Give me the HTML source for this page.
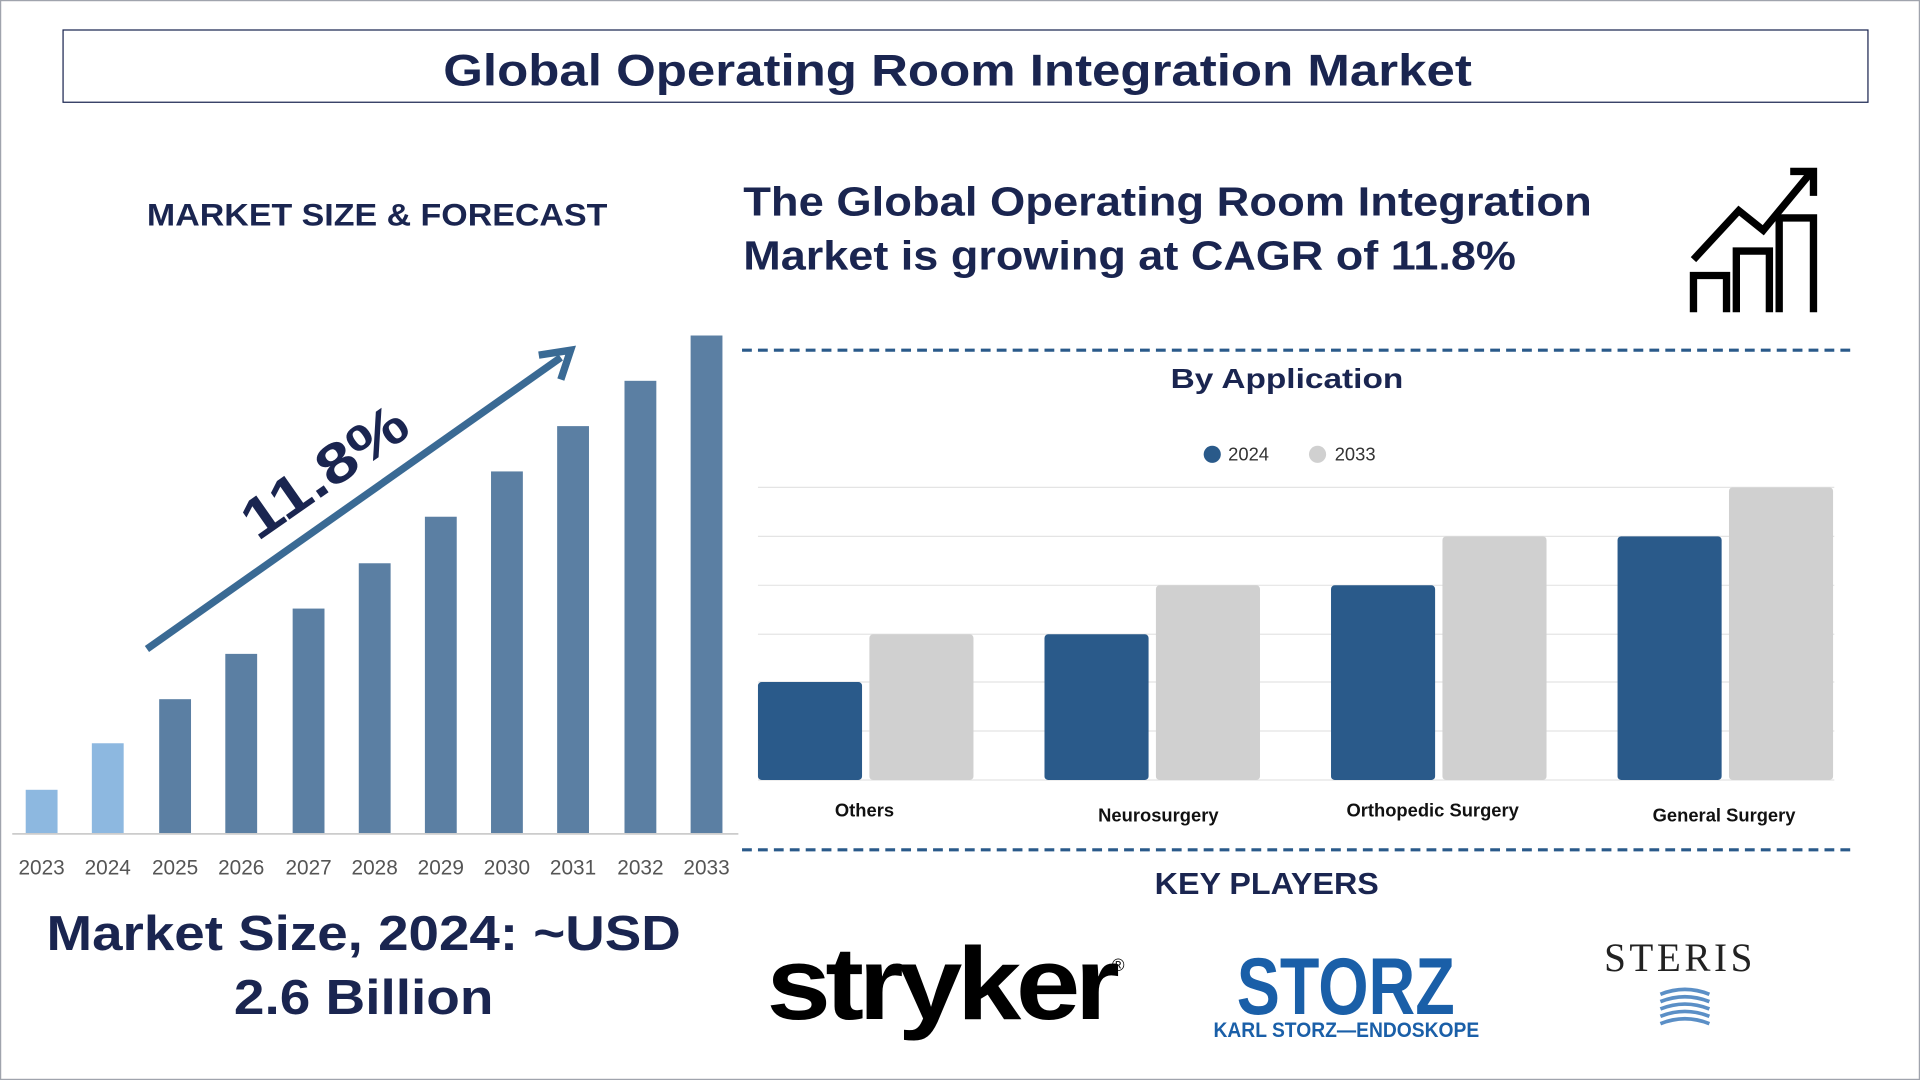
<!DOCTYPE html>
<html><head><meta charset="utf-8"><style>
html,body{margin:0;padding:0;background:#fff;width:1920px;height:1080px;overflow:hidden}
#s{position:absolute;left:0;top:0;width:1568px;height:882px;transform:scale(1.22449);transform-origin:0 0;font-family:"Liberation Sans",sans-serif}
.a{position:absolute}
</style></head><body><div id="s">
<div class="a" style="left:0;top:0;width:1566px;height:880px;border:1px solid #a0a4ad"></div>
<div class="a" style="left:51px;top:24px;width:1473px;height:58px;border:1.5px solid #1a2550"></div>
<svg class="a" style="left:0;top:0" width="1568" height="882">
<text x="362" y="70" font-size="36" font-weight="bold" fill="#1a2550" textLength="840" lengthAdjust="spacingAndGlyphs">Global Operating Room Integration Market</text>
<text x="120" y="184" font-size="26" font-weight="bold" fill="#1a2550" textLength="376" lengthAdjust="spacingAndGlyphs">MARKET SIZE &amp; FORECAST</text>
<text x="607" y="176" font-size="33" font-weight="bold" fill="#1a2550" textLength="693" lengthAdjust="spacingAndGlyphs">The Global Operating Room Integration</text>
<text x="607" y="220" font-size="33" font-weight="bold" fill="#1a2550" textLength="631" lengthAdjust="spacingAndGlyphs">Market is growing at CAGR of 11.8%</text>
<g fill="none" stroke="#000" stroke-width="6">
<path d="M1383 255V225H1410V255M1418 255V205H1445V255M1453 255V178H1481V255"/>
<path d="M1383 212L1420 172L1440 188L1478 142"/>
<path d="M1462 140H1481V160" stroke-linejoin="miter"/>
</g>
<line x1="606" y1="286" x2="1513" y2="286" stroke="#2a5a8a" stroke-width="2.5" stroke-dasharray="8,5"/>
<line x1="606" y1="694" x2="1513" y2="694" stroke="#2a5a8a" stroke-width="2.5" stroke-dasharray="8,5"/>
<g fill="#8db8e0"><rect x="21" y="645" width="26" height="36"/><rect x="75" y="607" width="26" height="74"/></g>
<g fill="#5b7fa3">
<rect x="130" y="571" width="26" height="110"/><rect x="184" y="534" width="26" height="147"/><rect x="239" y="497" width="26" height="184"/><rect x="293" y="460" width="26" height="221"/><rect x="347" y="422" width="26" height="259"/><rect x="401" y="385" width="26" height="296"/><rect x="455" y="348" width="26" height="333"/><rect x="510" y="311" width="26" height="370"/><rect x="564" y="274" width="26" height="407"/></g>
<line x1="10" y1="681" x2="603" y2="681" stroke="#ccc" stroke-width="1.5"/>
<g font-size="17" fill="#555" text-anchor="middle">
<text x="34" y="714">2023</text><text x="88" y="714">2024</text><text x="143" y="714">2025</text><text x="197" y="714">2026</text><text x="252" y="714">2027</text><text x="306" y="714">2028</text><text x="360" y="714">2029</text><text x="414" y="714">2030</text><text x="468" y="714">2031</text><text x="523" y="714">2032</text><text x="577" y="714">2033</text></g>
<line x1="120" y1="530" x2="458" y2="292" stroke="#3a6a94" stroke-width="6"/>
<path d="M440 290L466 286L458 310" fill="none" stroke="#3a6a94" stroke-width="6"/>
<text x="274" y="398" transform="rotate(-35 274 398)" text-anchor="middle" font-size="46" font-weight="bold" fill="#1a2550" textLength="155" lengthAdjust="spacingAndGlyphs">11.8%</text>
<g stroke="#e4e4e4" stroke-width="1"><line x1="619" y1="398" x2="1498" y2="398"/><line x1="619" y1="438" x2="1498" y2="438"/><line x1="619" y1="478" x2="1498" y2="478"/><line x1="619" y1="518" x2="1498" y2="518"/><line x1="619" y1="557" x2="1498" y2="557"/><line x1="619" y1="597" x2="1498" y2="597"/><line x1="619" y1="637" x2="1498" y2="637"/></g>
<g fill="#2a5a8a"><rect x="619" y="557" width="85" height="80" rx="3"/><rect x="853" y="518" width="85" height="119" rx="3"/><rect x="1087" y="478" width="85" height="159" rx="3"/><rect x="1321" y="438" width="85" height="199" rx="3"/></g>
<g fill="#d0d0d0"><rect x="710" y="518" width="85" height="119" rx="3"/><rect x="944" y="478" width="85" height="159" rx="3"/><rect x="1178" y="438" width="85" height="199" rx="3"/><rect x="1412" y="398" width="85" height="239" rx="3"/></g>
<text x="956" y="317" font-size="23" font-weight="bold" fill="#1a2550" textLength="190" lengthAdjust="spacingAndGlyphs">By Application</text>
<circle cx="990" cy="371" r="7" fill="#2a5a8a"/><text x="1003" y="376" font-size="15" fill="#333">2024</text>
<circle cx="1076" cy="371" r="7" fill="#d0d0d0"/><text x="1090" y="376" font-size="15" fill="#333">2033</text>
<g font-size="15" font-weight="bold" fill="#111" text-anchor="middle"><text x="706" y="667">Others</text><text x="946" y="671">Neurosurgery</text><text x="1170" y="667">Orthopedic Surgery</text><text x="1408" y="671">General Surgery</text></g>
<text x="943" y="730" font-size="25" font-weight="bold" fill="#1a2550" textLength="183" lengthAdjust="spacingAndGlyphs">KEY PLAYERS</text>
<text x="38" y="776" font-size="40" font-weight="bold" fill="#1a2550" textLength="518" lengthAdjust="spacingAndGlyphs">Market Size, 2024: ~USD</text>
<text x="191" y="828" font-size="40" font-weight="bold" fill="#1a2550" textLength="212" lengthAdjust="spacingAndGlyphs">2.6 Billion</text>
<text x="626" y="832" font-size="84" font-weight="bold" fill="#000" letter-spacing="-4" textLength="284" lengthAdjust="spacingAndGlyphs">stryker</text>
<text x="908" y="793" font-size="14" fill="#000">®</text>
<text x="1010" y="828" font-size="66" font-weight="bold" fill="#1a5fa8" textLength="178" lengthAdjust="spacingAndGlyphs">STORZ</text>
<text x="991" y="847" font-size="17" font-weight="bold" fill="#1a5fa8" textLength="217" lengthAdjust="spacingAndGlyphs">KARL STORZ—ENDOSKOPE</text>
<text x="1310" y="793" font-family="Liberation Serif,serif" font-size="33" fill="#222" letter-spacing="3" textLength="124" lengthAdjust="spacingAndGlyphs">STERIS</text>
<g stroke="#5b8fc6" stroke-width="3" fill="none"><path d="M1356 812Q1376 804 1396 812"/><path d="M1356 818Q1376 810 1396 818"/><path d="M1356 824Q1376 816 1396 824"/><path d="M1356 830Q1376 822 1396 830"/><path d="M1356 836Q1376 828 1396 836"/></g>
</svg>
</div></body></html>
